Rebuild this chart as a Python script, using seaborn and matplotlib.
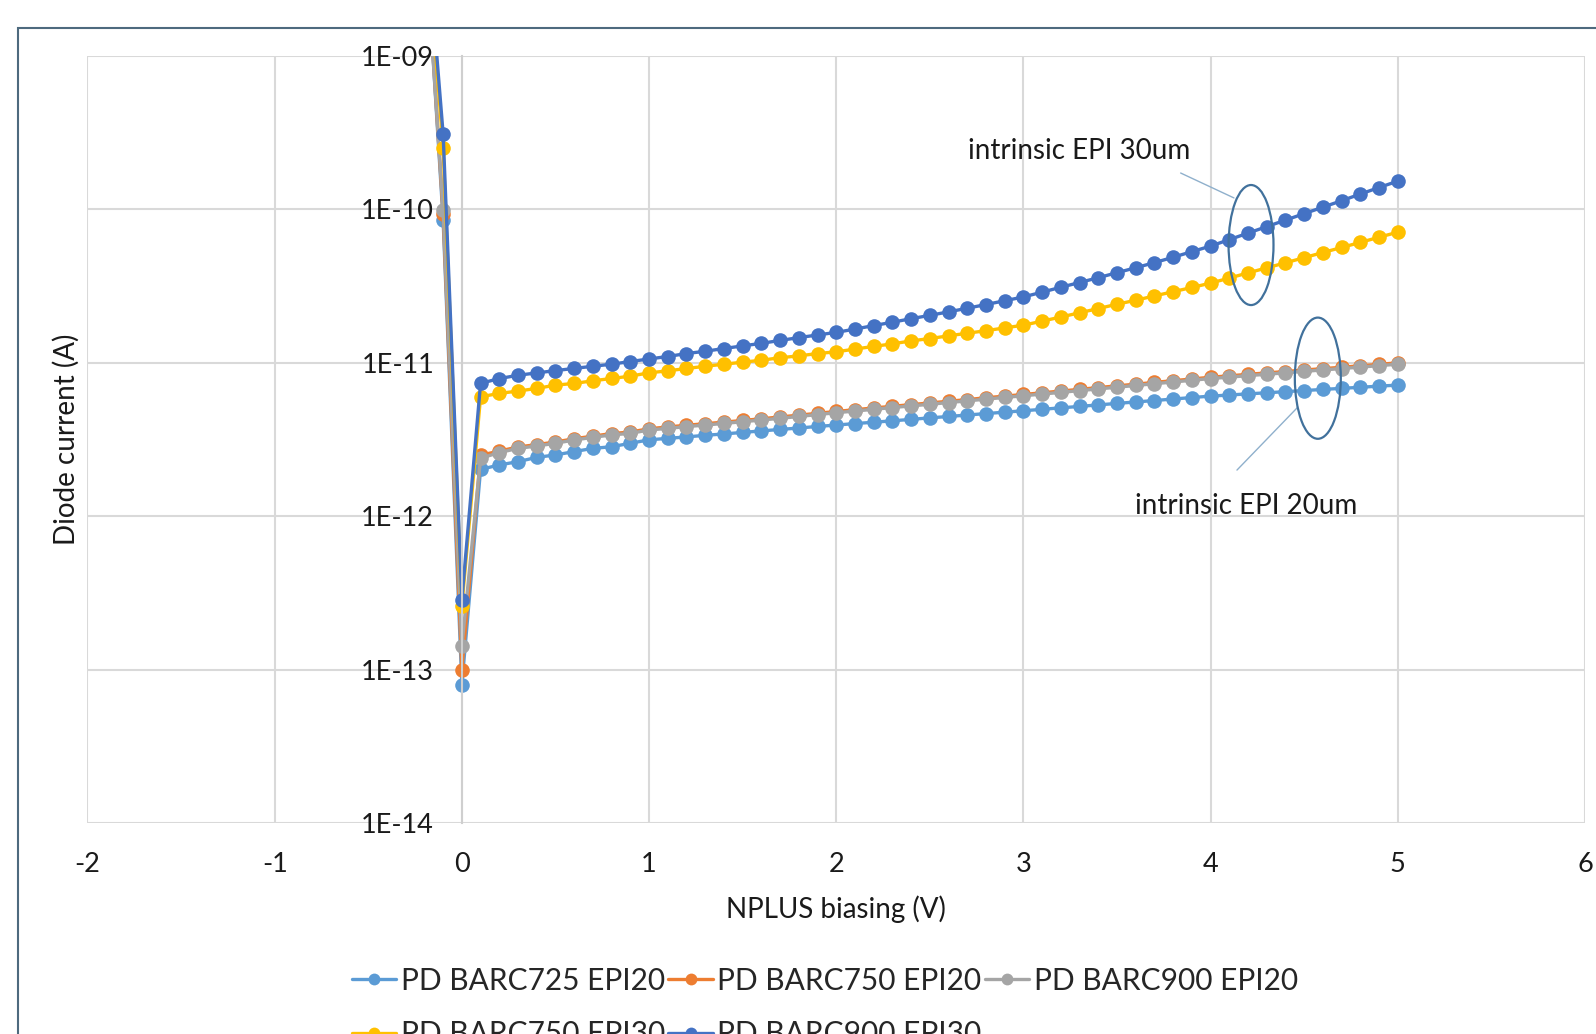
import numpy as np
import pandas as pd
import seaborn as sns
import matplotlib.pyplot as plt
from matplotlib.lines import Line2D
from matplotlib.patches import Ellipse, Rectangle

# Tension NPLUS (V) : -0.2 à 5.0 par pas de 0.1
bias_v = [-0.2, -0.1, 0.0] + [round(0.1 * i, 1) for i in range(1, 51)]

# Courant de diode (A)
pd_barc725_epi20 = [
    8e-9, 8.5e-11, 8.0e-14,
    2.02e-12, 2.16e-12, 2.27e-12, 2.42e-12, 2.51e-12, 2.64e-12, 2.77e-12, 2.84e-12, 2.99e-12, 3.15e-12,
    3.22e-12, 3.29e-12, 3.37e-12, 3.44e-12, 3.52e-12, 3.60e-12, 3.68e-12, 3.76e-12, 3.85e-12, 3.93e-12,
    4.02e-12, 4.10e-12, 4.19e-12, 4.28e-12, 4.38e-12, 4.47e-12, 4.57e-12, 4.67e-12, 4.77e-12, 4.87e-12,
    4.98e-12, 5.09e-12, 5.20e-12, 5.32e-12, 5.44e-12, 5.56e-12, 5.68e-12, 5.81e-12, 5.94e-12, 6.07e-12,
    6.17e-12, 6.28e-12, 6.38e-12, 6.49e-12, 6.60e-12, 6.71e-12, 6.82e-12, 6.93e-12, 7.05e-12, 7.16e-12,
]
pd_barc750_epi20 = [
    8e-9, 9.3e-11, 1.0e-13,
    2.50e-12, 2.66e-12, 2.83e-12, 2.93e-12, 3.05e-12, 3.20e-12, 3.33e-12, 3.46e-12, 3.54e-12, 3.72e-12,
    3.82e-12, 3.92e-12, 4.01e-12, 4.11e-12, 4.21e-12, 4.32e-12, 4.44e-12, 4.56e-12, 4.69e-12, 4.82e-12,
    4.95e-12, 5.08e-12, 5.21e-12, 5.34e-12, 5.48e-12, 5.62e-12, 5.76e-12, 5.92e-12, 6.07e-12, 6.22e-12,
    6.38e-12, 6.55e-12, 6.72e-12, 6.90e-12, 7.08e-12, 7.26e-12, 7.46e-12, 7.65e-12, 7.85e-12, 8.06e-12,
    8.23e-12, 8.42e-12, 8.60e-12, 8.78e-12, 8.98e-12, 9.17e-12, 9.36e-12, 9.57e-12, 9.78e-12, 1.00e-11,
]
pd_barc900_epi20 = [
    7e-9, 9.9e-11, 1.42e-13,
    2.39e-12, 2.60e-12, 2.77e-12, 2.87e-12, 2.99e-12, 3.14e-12, 3.27e-12, 3.39e-12, 3.47e-12, 3.65e-12,
    3.74e-12, 3.84e-12, 3.93e-12, 4.03e-12, 4.13e-12, 4.24e-12, 4.35e-12, 4.47e-12, 4.60e-12, 4.73e-12,
    4.85e-12, 4.98e-12, 5.11e-12, 5.24e-12, 5.37e-12, 5.51e-12, 5.65e-12, 5.80e-12, 5.95e-12, 6.10e-12,
    6.26e-12, 6.42e-12, 6.59e-12, 6.76e-12, 6.94e-12, 7.12e-12, 7.31e-12, 7.50e-12, 7.70e-12, 7.90e-12,
    8.07e-12, 8.25e-12, 8.43e-12, 8.61e-12, 8.80e-12, 8.99e-12, 9.18e-12, 9.38e-12, 9.59e-12, 9.80e-12,
]
pd_barc750_epi30 = [
    9e-9, 2.52e-10, 2.6e-13,
    6.01e-12, 6.32e-12, 6.55e-12, 6.81e-12, 7.16e-12, 7.34e-12, 7.64e-12, 7.91e-12, 8.19e-12, 8.61e-12,
    8.87e-12, 9.19e-12, 9.50e-12, 9.80e-12, 1.01e-11, 1.04e-11, 1.08e-11, 1.11e-11, 1.15e-11, 1.18e-11,
    1.23e-11, 1.28e-11, 1.33e-11, 1.39e-11, 1.44e-11, 1.50e-11, 1.56e-11, 1.62e-11, 1.69e-11, 1.76e-11,
    1.87e-11, 1.99e-11, 2.12e-11, 2.26e-11, 2.41e-11, 2.56e-11, 2.73e-11, 2.91e-11, 3.10e-11, 3.31e-11,
    3.57e-11, 3.86e-11, 4.16e-11, 4.49e-11, 4.85e-11, 5.24e-11, 5.65e-11, 6.10e-11, 6.59e-11, 7.11e-11,
]
pd_barc900_epi30 = [
    1e-8, 3.11e-10, 2.85e-13,
    7.35e-12, 7.90e-12, 8.30e-12, 8.60e-12, 8.90e-12, 9.20e-12, 9.50e-12, 9.80e-12, 1.02e-11, 1.06e-11,
    1.10e-11, 1.15e-11, 1.19e-11, 1.24e-11, 1.29e-11, 1.34e-11, 1.40e-11, 1.46e-11, 1.52e-11, 1.58e-11,
    1.66e-11, 1.75e-11, 1.84e-11, 1.94e-11, 2.04e-11, 2.15e-11, 2.27e-11, 2.40e-11, 2.54e-11, 2.69e-11,
    2.89e-11, 3.11e-11, 3.34e-11, 3.59e-11, 3.87e-11, 4.17e-11, 4.50e-11, 4.88e-11, 5.31e-11, 5.77e-11,
    6.36e-11, 7.01e-11, 7.73e-11, 8.52e-11, 9.39e-11, 1.035e-10, 1.14e-10, 1.26e-10, 1.39e-10, 1.53e-10,
]

series_names = ['PD BARC725 EPI20', 'PD BARC750 EPI20', 'PD BARC900 EPI20',
                'PD BARC750 EPI30', 'PD BARC900 EPI30']
series_values = [pd_barc725_epi20, pd_barc750_epi20, pd_barc900_epi20,
                 pd_barc750_epi30, pd_barc900_epi30]
colors = ['#5B9BD5', '#ED7D31', '#A5A5A5', '#FFC000', '#4472C4']

x_ticks = [-2, -1, 0, 1, 2, 3, 4, 5, 6]
y_ticks = [1e-14, 1e-13, 1e-12, 1e-11, 1e-10, 1e-9]
y_tick_labels = ['1E-14', '1E-13', '1E-12', '1E-11', '1E-10', '1E-09']

# Table longue pour seaborn
df = pd.concat([pd.DataFrame({'bias': bias_v, 'current': v, 'serie': n})
                for n, v in zip(series_names, series_values)], ignore_index=True)

sns.set_theme(style='white')
plt.rcParams['font.family'] = ['Lato', 'DejaVu Sans']

fig = plt.figure(figsize=(15.96, 10.34), dpi=100)
ax = fig.add_axes([0.0548, 0.204, 0.9383, 0.7418])

sns.lineplot(data=df, x='bias', y='current', hue='serie', hue_order=series_names,
             palette=colors, marker='o', markersize=10.5, markeredgewidth=0,
             linewidth=2.4, sort=False, estimator=None, legend=False, ax=ax)

ax.set_yscale('log')
ax.set_xlim(-2, 6)
ax.set_ylim(1e-14, 1e-9)
ax.set_xticks(x_ticks)
ax.set_xticklabels([str(t) for t in x_ticks])
ax.set_yticks(y_ticks)
ax.set_yticklabels(y_tick_labels)
ax.yaxis.set_minor_locator(plt.NullLocator())
ax.grid(True, color='#d9d9d9', linewidth=1.5)
ax.set_axisbelow(True)

for s in ['top', 'right', 'bottom']:
    ax.spines[s].set_visible(False)
ax.spines['left'].set_position(('data', 0))
ax.spines['left'].set_color('#cfcfcf')
ax.spines['left'].set_linewidth(1.5)

ax.tick_params(axis='y', length=0, pad=20, labelsize=19.5, labelcolor='#1a1a1a')
ax.tick_params(axis='x', length=0, pad=21, labelsize=19.5, labelcolor='#1a1a1a')

ax.set_xlabel('NPLUS biasing (V)', fontsize=20, labelpad=13, color='#1a1a1a')
ax.set_ylabel('Diode current (A)', fontsize=20, color='#1a1a1a')
ax.yaxis.set_label_coords(-0.005, 0.5)

# Annotations (ellipses + texte)
ell_color = '#41719C'
ax.add_patch(Ellipse((0.777, 0.7536), 0.030, 0.1565, transform=ax.transAxes,
                     fill=False, edgecolor=ell_color, linewidth=1.6, zorder=5))
ax.add_patch(Ellipse((0.8216, 0.580), 0.0307, 0.158, transform=ax.transAxes,
                     fill=False, edgecolor=ell_color, linewidth=1.6, zorder=5))
ax.plot([0.730, 0.7656], [0.8475, 0.815], transform=ax.transAxes, color='#8fb0cc', lw=1)
ax.plot([0.7676, 0.8083], [0.4602, 0.5424], transform=ax.transAxes, color='#8fb0cc', lw=1)
ax.text(0.662, 0.876, 'intrinsic EPI 30um', transform=ax.transAxes, ha='center', va='center',
        fontsize=20, color='#1a1a1a')
ax.text(0.774, 0.4133, 'intrinsic EPI 20um', transform=ax.transAxes, ha='center', va='center',
        fontsize=20, color='#1a1a1a')

# Légende sur deux lignes (ordre ligne par ligne)
handles = [Line2D([], [], color=c, marker='o', markersize=8.5, markeredgewidth=0, linewidth=2.4)
           for c in colors]
order = [0, 3, 1, 4, 2]
fig.legend([handles[i] for i in order], [series_names[i] for i in order],
           ncol=3, loc='upper left', bbox_to_anchor=(0.211, 0.0795), frameon=False,
           fontsize=21.5, handlelength=1.5, handletextpad=0.15, columnspacing=0.1,
           borderpad=0, labelspacing=0.85)

# Cadre du graphique (coupé à droite et en bas)
fig.patches.append(Rectangle((0.0113, -0.2), 1.2, 0.9734 + 0.2, transform=fig.transFigure,
                             fill=False, edgecolor='#4e6a7e', linewidth=1.5))

fig.savefig('out.png', dpi=100, facecolor='white')
